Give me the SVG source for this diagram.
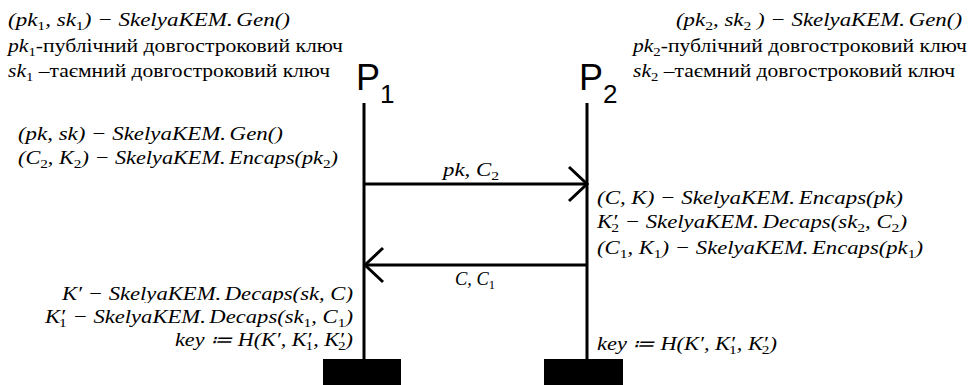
<svg xmlns="http://www.w3.org/2000/svg" width="971" height="385" viewBox="0 0 971 385">
<style>
.m{font-family:"Liberation Serif","Times New Roman",serif;font-style:italic;font-size:19px;fill:#000}
.t{font-style:normal}
.s{font-size:13px;font-style:normal}
.lbl{font-family:"Liberation Sans",Arial,sans-serif;font-size:36px;fill:#000}
.lblsub{font-size:26px}
.life{stroke:#000;stroke-width:3;fill:none}
.arr{stroke:#000;stroke-width:3;fill:none;marker-end:url(#chev)}
.bar{fill:#000}
</style>
<defs>
<marker id="chev" markerUnits="userSpaceOnUse" markerWidth="24" markerHeight="40" refX="19" refY="18" orient="auto" overflow="visible">
<path d="M1,1 L19,18 L1,35" stroke="#000" stroke-width="3" fill="none"/>
</marker>
<clipPath id="cl1"><rect x="0" y="280" width="400" height="23"/></clipPath>
</defs>

<g id="p1">
<text class="lbl" x="356" y="90">P<tspan class="lblsub" y="103">1</tspan></text>
<line class="life" x1="364" y1="103" x2="364" y2="360"/>
<rect class="bar" x="323" y="359" width="78" height="26"/>
</g>

<g id="p2">
<text class="lbl" x="579" y="90">P<tspan class="lblsub" y="103">2</tspan></text>
<line class="life" x1="587" y1="103" x2="587" y2="360"/>
<rect class="bar" x="544" y="359" width="79" height="26"/>
</g>

<g id="connectors">
<line class="arr" x1="364" y1="184" x2="587" y2="184"/>
<line class="arr" x1="587" y1="265" x2="365" y2="265"/>
<text class="m" x="443" y="176" textLength="56" lengthAdjust="spacingAndGlyphs">pk, C<tspan class="s" dy="4">2</tspan></text>
<text class="m" x="455" y="285" textLength="40" lengthAdjust="spacingAndGlyphs">C, C<tspan class="s" dy="4">1</tspan></text>
</g>

<g id="p1-keys">
<text class="m" x="8" y="26" textLength="282" lengthAdjust="spacingAndGlyphs">(pk<tspan class="s" dy="4">1</tspan><tspan dy="-4">, sk</tspan><tspan class="s" dy="4">1</tspan><tspan dy="-4">) − SkelyaKEM.</tspan><tspan dx="3">Gen()</tspan></text>
<text class="m" x="8" y="52" textLength="335" lengthAdjust="spacingAndGlyphs">pk<tspan class="s" dy="4">1</tspan><tspan class="t" dy="-4">-публічний довгостроковий ключ</tspan></text>
<text class="m" x="8" y="77" textLength="322" lengthAdjust="spacingAndGlyphs">sk<tspan class="s" dy="4">1</tspan><tspan class="t" dy="-4"> –таємний довгостроковий ключ</tspan></text>
</g>

<g id="p2-keys">
<text class="m" x="676" y="26" textLength="286" lengthAdjust="spacingAndGlyphs">(pk<tspan class="s" dy="4">2</tspan><tspan dy="-4">, sk</tspan><tspan class="s" dy="4">2</tspan><tspan dy="-4"> ) − SkelyaKEM.</tspan><tspan dx="3">Gen()</tspan></text>
<text class="m" x="633" y="52" textLength="334" lengthAdjust="spacingAndGlyphs">pk<tspan class="s" dy="4">2</tspan><tspan class="t" dy="-4">-публічний довгостроковий ключ</tspan></text>
<text class="m" x="633" y="77" textLength="322" lengthAdjust="spacingAndGlyphs">sk<tspan class="s" dy="4">2</tspan><tspan class="t" dy="-4"> –таємний довгостроковий ключ</tspan></text>
</g>

<g id="p1-step1">
<text class="m" x="18" y="140" textLength="265" lengthAdjust="spacingAndGlyphs">(pk, sk) − SkelyaKEM.<tspan dx="3">Gen()</tspan></text>
<text class="m" x="18" y="164" textLength="320" lengthAdjust="spacingAndGlyphs">(C<tspan class="s" dy="4">2</tspan><tspan dy="-4">, K</tspan><tspan class="s" dy="4">2</tspan><tspan dy="-4">) − SkelyaKEM.</tspan><tspan dx="3">Encaps(pk</tspan><tspan class="s" dy="4">2</tspan><tspan dy="-4">)</tspan></text>
</g>

<g id="p2-step">
<text class="m" x="597" y="204" textLength="306" lengthAdjust="spacingAndGlyphs">(C, K) − SkelyaKEM.<tspan dx="3">Encaps(pk)</tspan></text>
<text class="m" x="597" y="228" textLength="310" lengthAdjust="spacingAndGlyphs">K<tspan>′</tspan><tspan class="s" dx="-5" dy="4">2</tspan><tspan dy="-4"> − SkelyaKEM.</tspan><tspan dx="3">Decaps(sk</tspan><tspan class="s" dy="4">2</tspan><tspan dy="-4">, C</tspan><tspan class="s" dy="4">2</tspan><tspan dy="-4">)</tspan></text>
<text class="m" x="597" y="254" textLength="326" lengthAdjust="spacingAndGlyphs">(C<tspan class="s" dy="4">1</tspan><tspan dy="-4">, K</tspan><tspan class="s" dy="4">1</tspan><tspan dy="-4">) − SkelyaKEM.</tspan><tspan dx="3">Encaps(pk</tspan><tspan class="s" dy="4">1</tspan><tspan dy="-4">)</tspan></text>
<text class="m" x="597" y="350" textLength="180" lengthAdjust="spacingAndGlyphs">key ≔ H(K′, K<tspan>′</tspan><tspan class="s" dx="-5" dy="4">1</tspan><tspan dy="-4">, K′</tspan><tspan class="s" dx="-5" dy="4">2</tspan><tspan dy="-4">)</tspan></text>
</g>

<g id="p1-step2">
<text class="m" x="62" y="300" textLength="291" lengthAdjust="spacingAndGlyphs" clip-path="url(#cl1)">K′ − SkelyaKEM.<tspan dx="3">Decaps(sk, C)</tspan></text>
<text class="m" x="45" y="323" textLength="308" lengthAdjust="spacingAndGlyphs">K<tspan>′</tspan><tspan class="s" dx="-5" dy="4">1</tspan><tspan dy="-4"> − SkelyaKEM.</tspan><tspan dx="3">Decaps(sk</tspan><tspan class="s" dy="4">1</tspan><tspan dy="-4">, C</tspan><tspan class="s" dy="4">1</tspan><tspan dy="-4">)</tspan></text>
<text class="m" x="175" y="346" textLength="178" lengthAdjust="spacingAndGlyphs">key ≔ H(K′, K<tspan>′</tspan><tspan class="s" dx="-5" dy="4">1</tspan><tspan dy="-4">, K′</tspan><tspan class="s" dx="-5" dy="4">2</tspan><tspan dy="-4">)</tspan></text>
</g>
</svg>
